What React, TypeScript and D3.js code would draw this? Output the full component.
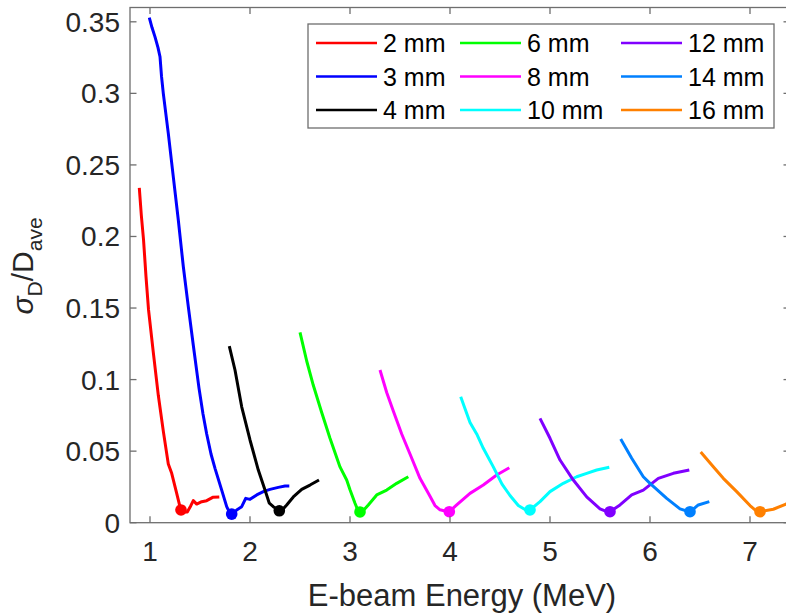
import React, { useEffect, useRef } from 'react';
import * as d3 from 'd3';

// thickness labels and line colours (MATLAB-like)
const thicknessLabels = ['2 mm', '3 mm', '4 mm', '6 mm', '8 mm', '10 mm', '12 mm', '14 mm', '16 mm'];
const seriesColors = ['#ff0000', '#0000ff', '#000000', '#00ff00', '#ff00ff', '#00ffff', '#8000ff', '#0080ff', '#ff8000'];

// [energy MeV, sigma_D / D_ave]
const curve2mm = [[0.893, 0.234], [0.913, 0.215], [0.935, 0.198], [0.96, 0.172], [0.985, 0.149], [1.033, 0.119], [1.083, 0.089], [1.133, 0.064], [1.183, 0.041], [1.217, 0.0345], [1.267, 0.0205], [1.3, 0.011], [1.317, 0.0085], [1.345, 0.0075], [1.373, 0.0075], [1.407, 0.0117], [1.433, 0.0154], [1.467, 0.013], [1.517, 0.0147], [1.567, 0.0154], [1.627, 0.0177], [1.693, 0.018]];
const curve3mm = [[0.993, 0.353], [1.02, 0.346], [1.05, 0.3395], [1.08, 0.332], [1.1, 0.3256], [1.115, 0.312], [1.133, 0.3], [1.183, 0.272], [1.233, 0.2417], [1.283, 0.2115], [1.333, 0.179], [1.383, 0.151], [1.433, 0.124], [1.49, 0.094], [1.53, 0.076], [1.567, 0.062], [1.61, 0.048], [1.65, 0.038], [1.717, 0.0228], [1.767, 0.0112], [1.8, 0.0065], [1.83, 0.0062], [1.867, 0.0089], [1.917, 0.0112], [1.957, 0.017], [2.0, 0.0163], [2.067, 0.0194], [2.133, 0.0217], [2.2, 0.0233], [2.283, 0.0247], [2.35, 0.0256], [2.393, 0.0256]];
const curve4mm = [[1.793, 0.1234], [1.85, 0.1067], [1.917, 0.081], [2.0, 0.0578], [2.083, 0.0368], [2.15, 0.0228], [2.193, 0.0136], [2.233, 0.0112], [2.27, 0.0095], [2.3, 0.0085], [2.33, 0.0095], [2.367, 0.0124], [2.433, 0.018], [2.517, 0.0233], [2.6, 0.0263], [2.69, 0.0298]];
const curve6mm = [[2.5, 0.133], [2.567, 0.113], [2.633, 0.096], [2.717, 0.077], [2.8, 0.059], [2.9, 0.039], [2.967, 0.0298], [3.0, 0.023], [3.05, 0.0136], [3.08, 0.0085], [3.1, 0.0075], [3.14, 0.009], [3.183, 0.0124], [3.267, 0.0194], [3.367, 0.0228], [3.467, 0.0275], [3.583, 0.0321]];
const curve8mm = [[3.3, 0.1067], [3.367, 0.091], [3.433, 0.078], [3.517, 0.062], [3.6, 0.048], [3.7, 0.031], [3.8, 0.0185], [3.85, 0.012], [3.9, 0.009], [3.95, 0.0082], [3.993, 0.0077], [4.067, 0.0124], [4.2, 0.0205], [4.333, 0.0263], [4.467, 0.0333], [4.593, 0.0384]];
const curve10mm = [[4.107, 0.088], [4.2, 0.07], [4.267, 0.062], [4.333, 0.052], [4.433, 0.039], [4.52, 0.027], [4.6, 0.019], [4.683, 0.012], [4.75, 0.0092], [4.8, 0.0089], [4.9, 0.0147], [5.0, 0.0217], [5.133, 0.0275], [5.267, 0.0321], [5.367, 0.0345], [5.467, 0.0368], [5.593, 0.0387]];
const curve12mm = [[4.9, 0.0729], [5.0, 0.059], [5.1, 0.0438], [5.233, 0.0298], [5.367, 0.018], [5.5, 0.0097], [5.55, 0.0082], [5.6, 0.0077], [5.7, 0.0124], [5.817, 0.0194], [5.933, 0.0228], [6.083, 0.031], [6.233, 0.0345], [6.393, 0.0368]];
const curve14mm = [[5.707, 0.0585], [5.817, 0.045], [5.933, 0.0321], [6.0, 0.0275], [6.167, 0.017], [6.3, 0.0097], [6.4, 0.0075], [6.483, 0.0124], [6.593, 0.0147]];
const curve16mm = [[6.507, 0.0494], [6.633, 0.0391], [6.733, 0.031], [6.867, 0.0217], [7.0, 0.012], [7.05, 0.009], [7.1, 0.0077], [7.233, 0.0094], [7.36, 0.013], [7.45, 0.017]];

// marked optimum of every curve
const optimumEnergy = [1.31, 1.817, 2.293, 3.1, 3.993, 4.8, 5.6, 6.4, 7.1];
const optimumSigma = [0.0089, 0.006, 0.0083, 0.0075, 0.0077, 0.0089, 0.0077, 0.0077, 0.0077];

const xTicks = [1, 2, 3, 4, 5, 6, 7];
const yTicks = [0, 0.05, 0.1, 0.15, 0.2, 0.25, 0.3, 0.35];

const curves = [curve2mm, curve3mm, curve4mm, curve6mm, curve8mm, curve10mm, curve12mm, curve14mm, curve16mm];

const FONT = '"Liberation Sans", Arial, Helvetica, sans-serif';

const App = () => {
  const svgRef = useRef(null);

  useEffect(() => {
    const svg = d3.select(svgRef.current);
    svg.selectAll('*').remove();

    const left = 130, right = 790, top = 7.5, bottom = 522.7;
    const x = d3.scaleLinear().domain([0.8, 7.4]).range([left, right]);
    const y = d3.scaleLinear().domain([0, 0.36]).range([bottom, top]);
    const axisColor = '#6e6e6e';
    const textColor = '#262626';
    const tickLen = 6.5;

    svg.append('defs').append('clipPath').attr('id', 'plotClip')
      .append('rect').attr('x', left).attr('y', top).attr('width', right - left).attr('height', bottom - top);

    // curves
    const line = d3.line().x(d => x(d[0])).y(d => y(d[1]));
    const plot = svg.append('g').attr('clip-path', 'url(#plotClip)');
    curves.forEach((c, i) => {
      plot.append('path')
        .attr('d', line(c))
        .attr('fill', 'none')
        .attr('stroke', seriesColors[i])
        .attr('stroke-width', 3)
        .attr('stroke-linejoin', 'round');
    });
    plot.selectAll('circle.opt')
      .data(optimumEnergy)
      .enter()
      .append('circle')
      .attr('class', 'opt')
      .attr('cx', d => x(d))
      .attr('cy', (d, i) => y(optimumSigma[i]))
      .attr('r', 5.8)
      .attr('fill', (d, i) => seriesColors[i]);

    // axes box with inward ticks
    const axisG = svg.append('g').attr('stroke', axisColor).attr('stroke-width', 1.3).attr('fill', 'none');
    axisG.append('rect').attr('x', left).attr('y', top).attr('width', right - left).attr('height', bottom - top);
    xTicks.forEach(t => {
      axisG.append('line').attr('x1', x(t)).attr('x2', x(t)).attr('y1', bottom).attr('y2', bottom - tickLen);
      axisG.append('line').attr('x1', x(t)).attr('x2', x(t)).attr('y1', top).attr('y2', top + tickLen);
    });
    yTicks.forEach(t => {
      axisG.append('line').attr('x1', left).attr('x2', left + tickLen).attr('y1', y(t)).attr('y2', y(t));
      axisG.append('line').attr('x1', right).attr('x2', right - tickLen).attr('y1', y(t)).attr('y2', y(t));
    });

    // tick labels
    svg.selectAll('text.xt')
      .data(xTicks)
      .enter()
      .append('text')
      .attr('x', d => x(d))
      .attr('y', 561)
      .attr('text-anchor', 'middle')
      .style('font-family', FONT)
      .style('font-size', '28px')
      .attr('fill', textColor)
      .text(d => d);
    svg.selectAll('text.yt')
      .data(yTicks)
      .enter()
      .append('text')
      .attr('x', 120)
      .attr('y', d => y(d) + 10)
      .attr('text-anchor', 'end')
      .style('font-family', FONT)
      .style('font-size', '28px')
      .attr('fill', textColor)
      .text(d => d3.format('~g')(d));

    // axis titles
    svg.append('text')
      .attr('x', 462)
      .attr('y', 606)
      .attr('text-anchor', 'middle')
      .style('font-family', FONT)
      .style('font-size', '31px')
      .attr('fill', textColor)
      .text('E-beam Energy (MeV)');

    const yTitle = svg.append('text')
      .attr('transform', 'translate(33,266) rotate(-90)')
      .attr('text-anchor', 'middle')
      .style('font-family', FONT)
      .style('font-size', '30px')
      .attr('fill', textColor);
    yTitle.append('tspan').style('font-style', 'italic').text('σ');
    yTitle.append('tspan').attr('dy', 9).style('font-size', '21px').text('D');
    yTitle.append('tspan').attr('dy', -9).text('/D');
    yTitle.append('tspan').attr('dy', 9).style('font-size', '21px').text('ave');

    // legend
    const legend = svg.append('g');
    legend.append('rect')
      .attr('x', 308).attr('y', 24).attr('width', 466).attr('height', 104)
      .attr('fill', '#fff').attr('stroke', axisColor).attr('stroke-width', 1.3);
    const colX = [316, 460, 621];
    const rowY = [43, 76.5, 110];
    thicknessLabels.forEach((lab, i) => {
      const cx = colX[Math.floor(i / 3)];
      const cy = rowY[i % 3];
      legend.append('line')
        .attr('x1', cx).attr('x2', cx + 61).attr('y1', cy).attr('y2', cy)
        .attr('stroke', seriesColors[i]).attr('stroke-width', 2.5);
      legend.append('text')
        .attr('x', cx + 67).attr('y', cy + 9)
        .style('font-family', FONT)
        .style('font-size', '25px')
        .attr('fill', '#000')
        .text(lab);
    });
  }, []);

  return (
    <svg ref={svgRef} width={786} height={613}
      style={{ position: 'absolute', left: 0, top: 0, background: '#fff' }}></svg>
  );
};

export default App;
